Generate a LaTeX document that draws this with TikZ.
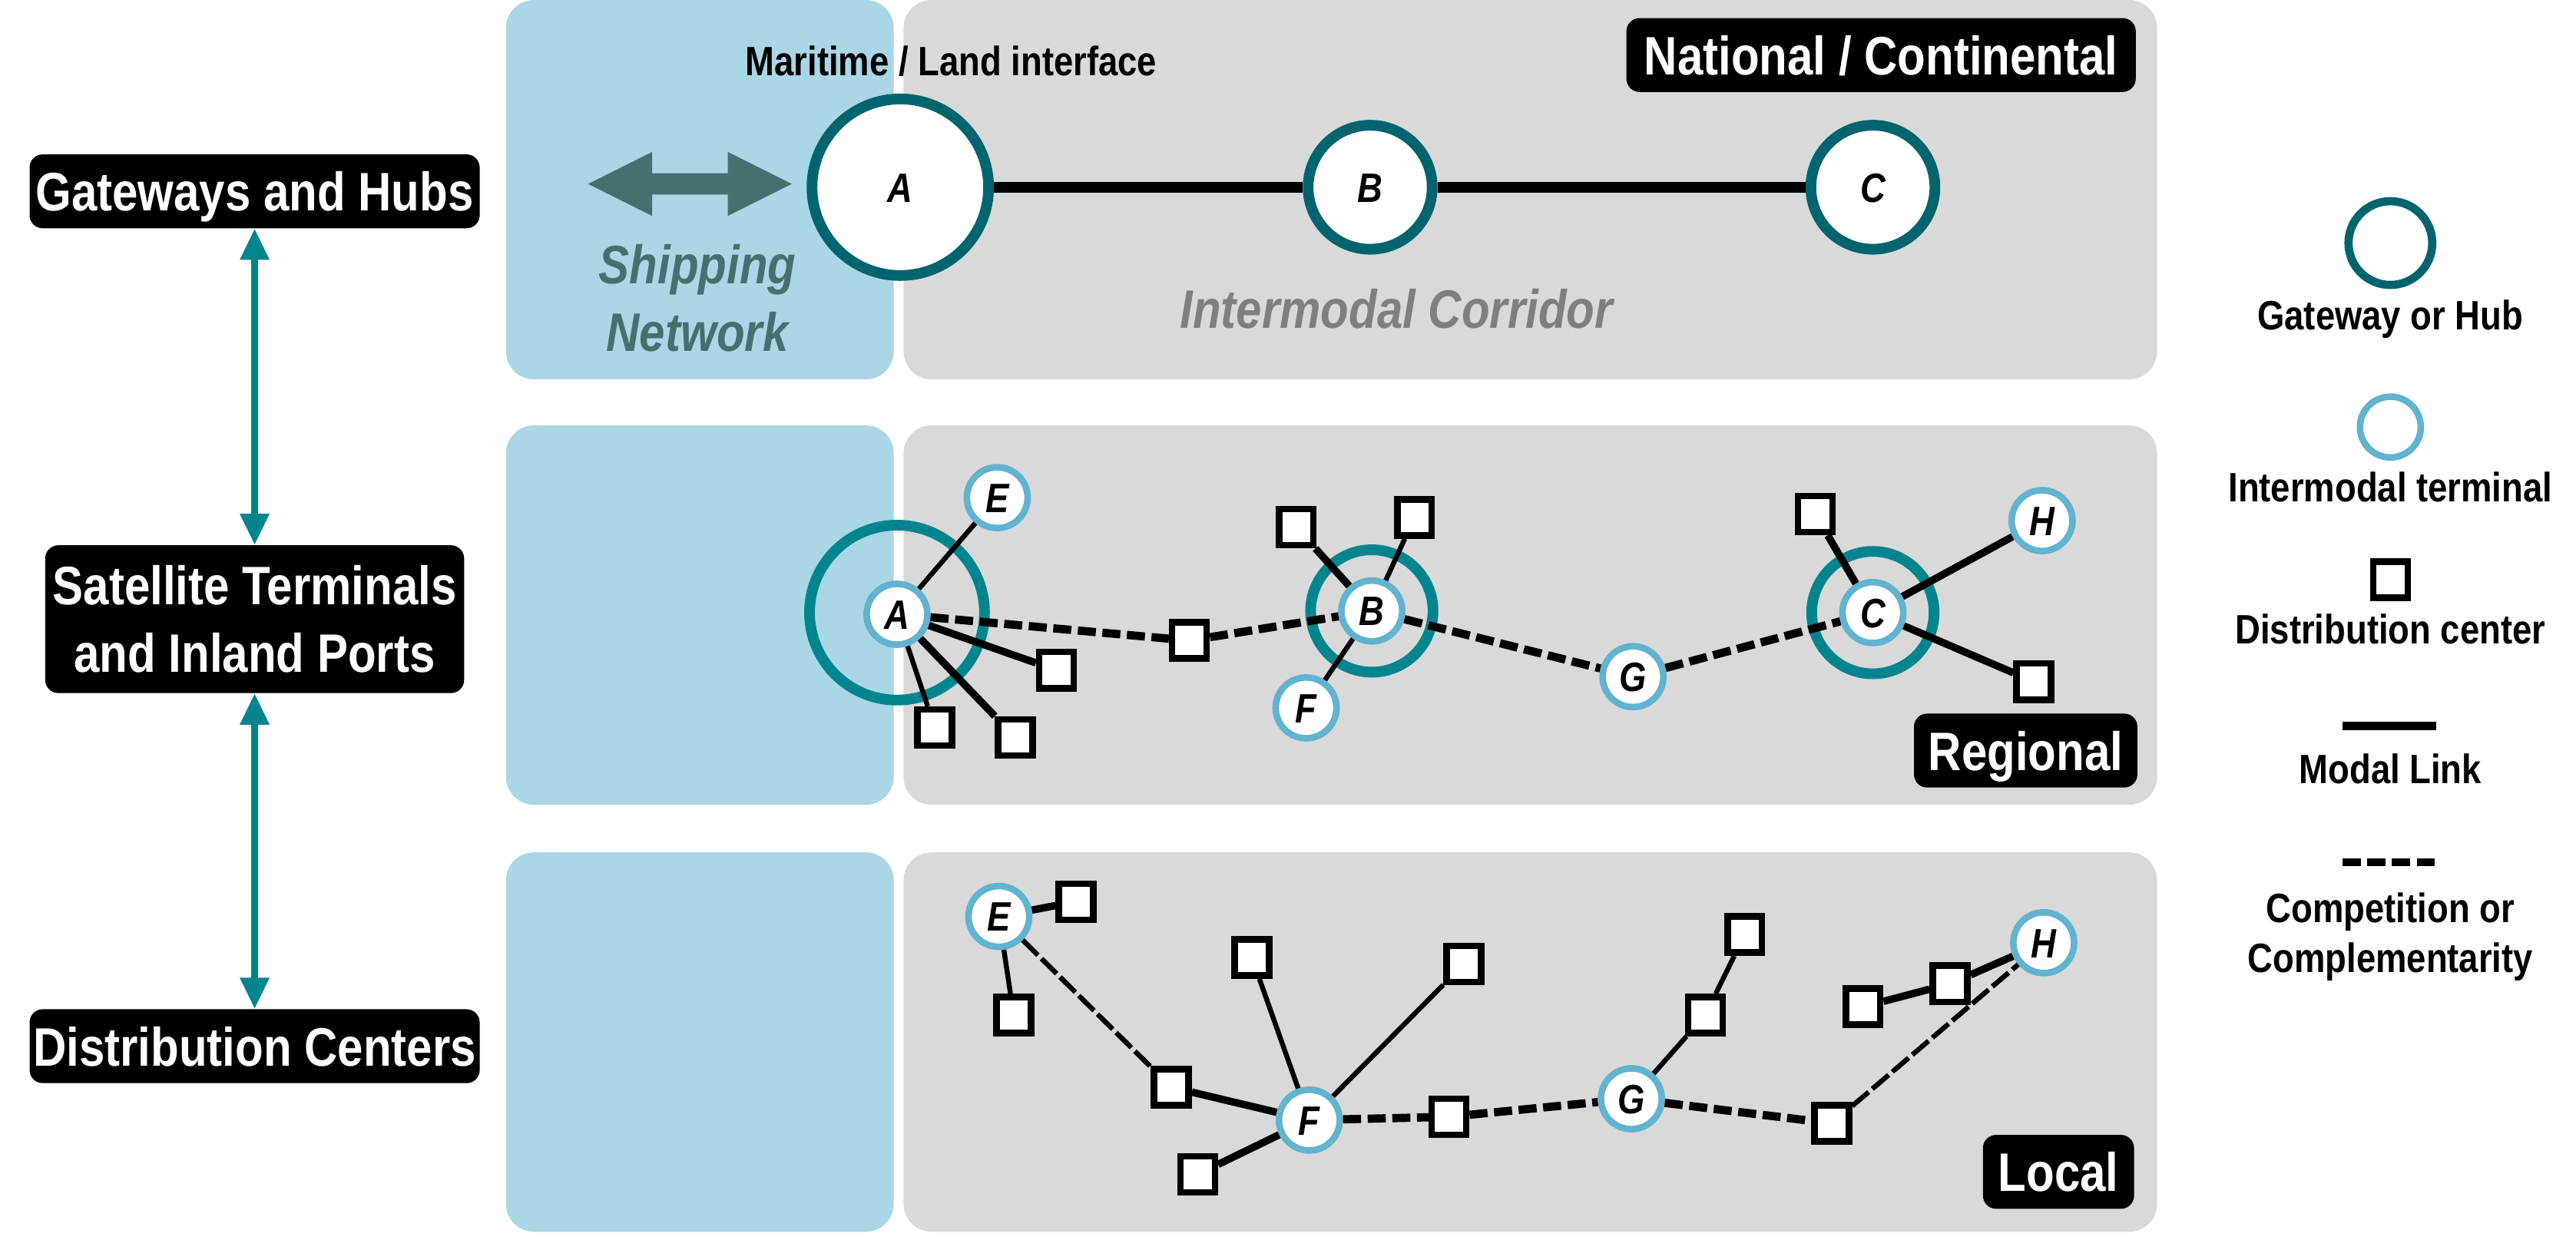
\documentclass[tikz,border=0pt]{standalone}
\usepackage{fontspec}
\setmainfont{Liberation Sans}[FakeStretch=0.85]
\usepackage{tikz}
\usetikzlibrary{arrows.meta}

\definecolor{seablue}{HTML}{A9D7E5}
\definecolor{landgray}{HTML}{D9D9D9}
\definecolor{hubteal}{HTML}{00646F}
\definecolor{ringteal}{HTML}{00858F}
\definecolor{termblue}{HTML}{61B3CF}
\definecolor{shipgreen}{HTML}{44716F}
\definecolor{corridorgray}{HTML}{7F7F7F}

\newcommand{\tagtxt}{\fontsize{33}{41}\selectfont\bfseries}
\newcommand{\bigitalic}{\fontsize{33}{41}\selectfont\bfseries\itshape}
\newcommand{\labeltxt}{\fontsize{25}{30.5}\selectfont\bfseries}
\newcommand{\lettertxt}{\fontsize{25}{30}\selectfont\bfseries\itshape}

\tikzset{
  tagbox/.style={fill=black, text=white, rounded corners=8pt, font=\tagtxt, inner sep=0pt, align=center},
  tag/.style={tagbox, text height=24pt, text depth=0pt, minimum height=45pt},
  letter/.style={font=\lettertxt, text height=18pt, text depth=0pt, inner sep=0pt},
  hub/.style={circle, letter, draw=hubteal, line width=6.5pt, fill=white, minimum size=75.5pt},
  ring/.style={circle, draw=ringteal, line width=6.5pt, inner sep=0pt, minimum size=74.5pt},
  terminal/.style={circle, letter, draw=termblue, line width=4pt, fill=white, minimum size=37pt},
  dc/.style={rectangle, draw=black, line width=4pt, fill=white, inner sep=0pt, minimum width=21pt, minimum height=22pt},
  levelarrow/.style={ringteal, line width=4pt, {Triangle[length=19pt,width=17pt]}-{Triangle[length=19pt,width=17pt]}},
  corridorlink/.style={line width=6.5pt},
  link/.style={line width=3pt},
  heavylink/.style={line width=4.5pt},
  dashlink/.style={line width=5pt, dash pattern=on 11pt off 4pt},
  thindash/.style={line width=3pt, dash pattern=on 13pt off 3pt}
}

\begin{document}
\begin{tikzpicture}[x=1pt,y=-1pt]
\useasboundingbox (0,0) rectangle (1568,755);

% panels
\foreach \top in {0,259,519} {
  \fill[seablue, rounded corners=17pt] (308,\top) rectangle (544,\top+231);
  \fill[landgray, rounded corners=17pt] (550,\top) rectangle (1313,\top+231);
}

% levels
\node[tag, minimum width=274pt] (gw) at (155,116.5) {Gateways and Hubs};
\node[tagbox, minimum width=255pt, minimum height=90pt] (sat) at (155,377) {Satellite Terminals\\and Inland Ports};
\node[tag, minimum width=274pt] (dist) at (155,637) {Distribution Centers};
\draw[levelarrow] (gw) -- (sat);
\draw[levelarrow] (sat) -- (dist);

% national / continental
\node[tag, minimum width=310pt] (national) at (1145,33.5) {National / Continental};
\node[anchor=base, font=\labeltxt] (interface) at (579,46) {Maritime / Land interface};
\fill[shipgreen] (358,112) -- (397,92.5) -- (397,105.5) -- (443,105.5) -- (443,92.5) -- (482,112)
  -- (443,131.5) -- (443,118.5) -- (397,118.5) -- (397,131.5) -- cycle;
\node[font=\bigitalic, text=shipgreen, align=center] (shipping) at (424.5,181.5) {Shipping\\Network};
\node[anchor=base, font=\bigitalic, text=corridorgray] (corridor) at (850,200) {Intermodal Corridor};
\node[hub, minimum size=107.5pt] (nA) at (548,114) {A};
\node[hub] (nB) at (834,114) {B};
\node[hub] (nC) at (1140,114) {C};
\draw[corridorlink] (nA) -- (nB);
\draw[corridorlink] (nB) -- (nC);

% regional
\node[ring, minimum size=106.5pt] (ringA) at (546,373) {};
\node[ring] (ringB) at (835,372) {};
\node[ring] (ringC) at (1140,373) {};
\node[terminal] (rA) at (546,374) {A};
\node[terminal] (rE) at (607,303) {E};
\node[terminal] (rB) at (835,372) {B};
\node[terminal] (rF) at (795,431) {F};
\node[terminal] (rG) at (994,412) {G};
\node[terminal] (rC) at (1140,373) {C};
\node[terminal] (rH) at (1243,317) {H};
\node[dc] (rs1) at (643,408) {};
\node[dc] (rs2) at (569,443) {};
\node[dc] (rs3) at (618,449) {};
\node[dc] (rs4) at (724,390) {};
\node[dc] (rs5) at (789,321) {};
\node[dc] (rs6) at (861,315) {};
\node[dc] (rs7) at (1105,313) {};
\node[dc] (rs8) at (1238,415) {};
\draw[link] (rA) -- (rE);
\draw[heavylink] (rA) -- (rs1);
\draw[link] (rA) -- (rs2);
\draw[heavylink] (rA) -- (rs3);
\draw[dashlink] (rA) -- (rs4);
\draw[dashlink] (rs4) -- (rB);
\draw[heavylink] (rB) -- (rs5);
\draw[link] (rB) -- (rs6);
\draw[link] (rB) -- (rF);
\draw[dashlink] (rB) -- (rG);
\draw[dashlink] (rG) -- (rC);
\draw[heavylink] (rC) -- (rs7);
\draw[heavylink] (rC) -- (rH);
\draw[heavylink] (rC) -- (rs8);
\node[tag, minimum width=136pt] (regional) at (1233,457) {Regional};

% local
\node[terminal] (lE) at (608,558) {E};
\node[terminal] (lF) at (797,682) {F};
\node[terminal] (lG) at (993,669) {G};
\node[terminal] (lH) at (1244,574) {H};
\node[dc] (ls1) at (655,549) {};
\node[dc] (ls2) at (617,618) {};
\node[dc] (ls3) at (713,662) {};
\node[dc] (ls4) at (762,583) {};
\node[dc] (ls5) at (729,715) {};
\node[dc] (ls6) at (891,587) {};
\node[dc] (ls7) at (882,680) {};
\node[dc] (ls8) at (1038,618) {};
\node[dc] (ls9) at (1062,569) {};
\node[dc] (ls10) at (1115,684) {};
\node[dc] (ls11) at (1187,599) {};
\node[dc] (ls12) at (1134,613) {};
\draw[heavylink] (lE) -- (ls1);
\draw[link] (lE) -- (ls2);
\draw[thindash] (lE) -- (ls3);
\draw[heavylink] (ls3) -- (lF);
\draw[link] (lF) -- (ls4);
\draw[heavylink] (lF) -- (ls5);
\draw[link] (lF) -- (ls6);
\draw[dashlink] (lF) -- (ls7);
\draw[dashlink] (ls7) -- (lG);
\draw[link] (lG) -- (ls8);
\draw[link] (ls8) -- (ls9);
\draw[dashlink] (lG) -- (ls10);
\draw[thindash] (ls10) -- (lH);
\draw[heavylink] (lH) -- (ls11);
\draw[heavylink] (ls11) -- (ls12);
\node[tag, minimum width=92pt] (local) at (1253,713.5) {Local};

% legend
\node[hub, line width=5pt, minimum size=51pt] (keyhub) at (1455,148) {};
\node[anchor=base, font=\labeltxt] (keyhubtxt) at (1455,201) {Gateway or Hub};
\node[terminal] (keyterm) at (1455,260) {};
\node[anchor=base, font=\labeltxt] (keytermtxt) at (1455,305.5) {Intermodal terminal};
\node[dc] (keydc) at (1455,353) {};
\node[anchor=base, font=\labeltxt] (keydctxt) at (1455,392) {Distribution center};
\coordinate (keylinkL) at (1426,442);
\coordinate (keylinkR) at (1483,442);
\draw[line width=5pt] (keylinkL) -- (keylinkR);
\node[anchor=base, font=\labeltxt] (keylinktxt) at (1455,477) {Modal Link};
\coordinate (keydashL) at (1426,525);
\coordinate (keydashR) at (1483,525);
\draw[dashlink] (keydashL) -- (keydashR);
\node[font=\labeltxt, align=center] (keydashtxt) at (1455,570.3) {Competition or\\Complementarity};
\end{tikzpicture}
\end{document}
